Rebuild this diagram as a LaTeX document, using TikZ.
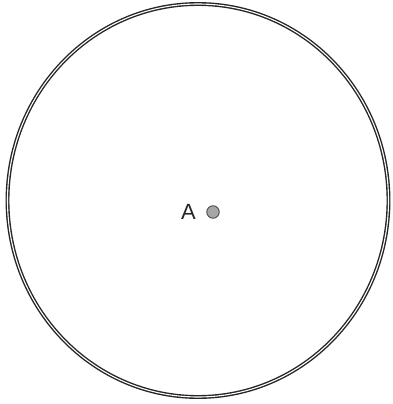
\documentclass[tikz,border=0pt]{standalone}
\usepackage{fontspec}
\setmainfont{Liberation Sans}
\begin{document}
\begin{tikzpicture}[x=1pt,y=-1pt,
  rim/.style={draw=black!85,line width=1.4pt,double=white,double distance=1.1pt},
  pointdot/.style={circle,fill=black!35,draw=black!70,line width=0.9pt,minimum size=12.5pt,inner sep=0pt},
  lbl/.style={font=\fontsize{22}{24}\selectfont,text=black!85,inner sep=0pt}]
\useasboundingbox (0,0) rectangle (393,404);
\draw[rim] (198,200.5) ellipse [x radius=190.5, y radius=196.5];
\node[pointdot] (ptA) at (213,212) {};
\node[lbl,anchor=base] (labA) at (188.5,219) {A};
\end{tikzpicture}
\end{document}
